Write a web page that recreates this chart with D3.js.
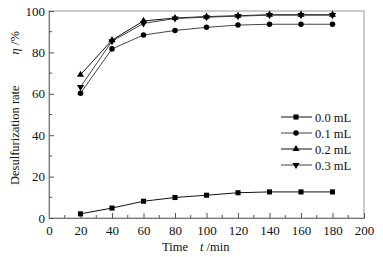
<!DOCTYPE html>
<html>
<head>
<meta charset="utf-8">
<script src="https://cdn.jsdelivr.net/npm/d3@7"></script>
<style>
  body { margin: 0; background: #fff; }
  svg text { font-family: "Liberation Serif", "Times New Roman", serif; fill: #111; }
</style>
</head>
<body>
<div id="chart"></div>
<script>
// tempi di campionamento (min)
const times = [20, 40, 60, 80, 100, 120, 140, 160, 180];

// serie: tasso di desolforazione per dose
const seriesNames = ['0.0 mL', '0.1 mL', '0.2 mL', '0.3 mL'];
const rate00 = [2, 4.8, 8.1, 9.9, 11, 12.2, 12.6, 12.6, 12.6];
const rate01 = [60.3, 81.7, 88.4, 90.6, 92.1, 93.2, 93.6, 93.6, 93.6];
const rate02 = [69.2, 85.9, 95.2, 96.6, 97.3, 97.7, 98.2, 98.2, 98.2];
const rate03 = [63.3, 85.4, 94, 96.4, 97, 97.5, 98, 98, 98];

const xTicks = [0, 20, 40, 60, 80, 100, 120, 140, 160, 180, 200];
const yTicks = [0, 20, 40, 60, 80, 100];

const width = 383, height = 257;
const margin = { top: 11, right: 19, bottom: 39, left: 49 };
const w = width - margin.left - margin.right;
const h = height - margin.top - margin.bottom;

const svg = d3.select('#chart').append('svg')
    .attr('width', width)
    .attr('height', height);

const g = svg.append('g')
    .attr('transform', `translate(${margin.left},${margin.top})`);

const x = d3.scaleLinear().domain([0, 200]).range([0, w]);
const y = d3.scaleLinear().domain([0, 100]).range([h, 0]);

// cornice grigia
g.append('rect')
    .attr('width', w).attr('height', h)
    .attr('fill', 'none')
    .attr('stroke', '#999')
    .attr('stroke-width', 1);

// asse x: tick maggiori ogni 20, minori ogni 10 verso l'interno
const xAxis = g.append('g')
    .attr('transform', `translate(0,${h})`)
    .call(d3.axisBottom(x).tickValues(xTicks).tickSize(-5).tickPadding(8));
xAxis.select('.domain').attr('stroke', '#777');
xAxis.selectAll('line').attr('stroke', '#555');
xAxis.selectAll('text').style('font-size', '13px');
g.append('g').selectAll('line')
    .data(d3.range(10, 200, 20))
    .join('line')
    .attr('x1', d => x(d)).attr('x2', d => x(d))
    .attr('y1', h).attr('y2', h - 3)
    .attr('stroke', '#555');

// asse y
const yAxis = g.append('g')
    .call(d3.axisLeft(y).tickValues(yTicks).tickSize(-5).tickPadding(4));
yAxis.select('.domain').attr('stroke', '#777');
yAxis.selectAll('line').attr('stroke', '#555');
yAxis.selectAll('text').style('font-size', '13px');
g.append('g').selectAll('line')
    .data(d3.range(10, 100, 20))
    .join('line')
    .attr('x1', 0).attr('x2', 3)
    .attr('y1', d => y(d)).attr('y2', d => y(d))
    .attr('stroke', '#555');

// etichette assi
const xl = svg.append('text')
    .attr('x', 162).attr('y', 251)
    .style('font-size', '12.5px');
xl.append('tspan').text('Time');
xl.append('tspan').attr('dx', 12).style('font-style', 'italic').text('t');
xl.append('tspan').text(' /min');

const yl = svg.append('text')
    .attr('transform', 'translate(19,185) rotate(-90)')
    .style('font-size', '12.5px');
yl.append('tspan').text('Desulfurization rate');
yl.append('tspan').attr('dx', 31).style('font-style', 'italic').text('η');
yl.append('tspan').text(' /%');

// serie
const seriesData = [rate00, rate01, rate02, rate03];
const lineColors = ['#111', '#444', '#111', '#444'];
const symbols = [d3.symbolSquare, d3.symbolCircle, d3.symbolTriangle, d3.symbolTriangle];
const symSizes = [26, 24, 22, 22];
const symRot = [0, 0, 0, 180];

const lineGen = d3.line()
    .x((d, i) => x(times[i]))
    .y(d => y(d));

seriesData.forEach((vals, s) => {
    g.append('path')
        .attr('d', lineGen(vals))
        .attr('fill', 'none')
        .attr('stroke', lineColors[s])
        .attr('stroke-width', 1);
    g.append('g').selectAll('path')
        .data(vals)
        .join('path')
        .attr('d', d3.symbol().type(symbols[s]).size(symSizes[s]))
        .attr('transform', (d, i) => `translate(${x(times[i])},${y(d)}) rotate(${symRot[s]})`)
        .attr('fill', '#000');
});

// legenda
const legend = svg.append('g').attr('transform', 'translate(281,117)');
seriesNames.forEach((name, s) => {
    const row = legend.append('g').attr('transform', `translate(0,${s * 16})`);
    row.append('line')
        .attr('x1', 0).attr('x2', 31)
        .attr('stroke', lineColors[s]).attr('stroke-width', 1);
    row.append('path')
        .attr('d', d3.symbol().type(symbols[s]).size(symSizes[s]))
        .attr('transform', `translate(15,0) rotate(${symRot[s]})`)
        .attr('fill', '#000');
    row.append('text')
        .attr('x', 34).attr('y', 4.5)
        .style('font-size', '12.5px')
        .text(name);
});
</script>
</body>
</html>
